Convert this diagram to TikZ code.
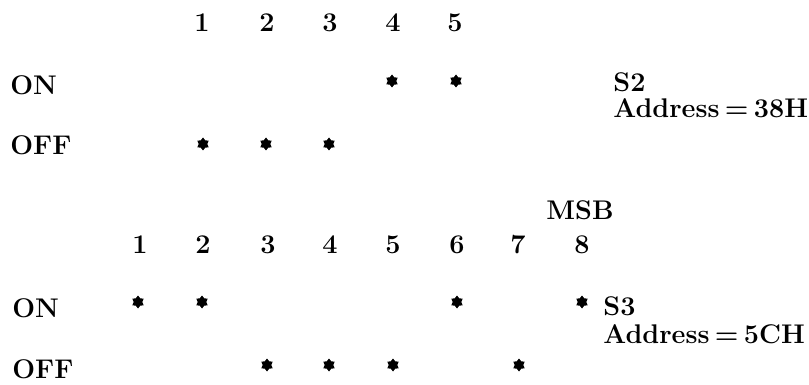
\documentclass[tikz,border=0pt]{standalone}
\usetikzlibrary{shapes.geometric}
\begin{document}
\begin{tikzpicture}[x=0.5pt,y=-0.5pt,
  lbl/.style={anchor=base west,inner sep=0pt,font=\fontsize{13.5}{15}\selectfont\bfseries},
  num/.style={anchor=base,inner sep=0pt,font=\fontsize{13.5}{15}\selectfont\bfseries},
  mark6/.style={star,star points=6,star point ratio=1.5,fill=black,draw=none,minimum size=6.5pt,inner sep=0pt}]
\useasboundingbox (0,0) rectangle (809,385);
% ---- S2 ----
\foreach \i/\x in {1/202,2/267,3/330,4/393,5/455}
  \node[num] (ta\i) at (\x,32) {\i};
\node[lbl] (tON) at (10,95) {ON};
\node[lbl] (tOFF) at (10,155) {OFF};
\node[mark6] (ts4) at (392,81) {};
\node[mark6] (ts5) at (456,81) {};
\node[mark6] (ts1) at (203,144) {};
\node[mark6] (ts2) at (266,144) {};
\node[mark6] (ts3) at (329,144) {};
\node[lbl] (s2) at (613,92) {S2};
\node[lbl] (s2a) at (613,118) {Address\hspace{0.2em}=\hspace{0.2em}38H};
% ---- S3 ----
\node[num] (msb) at (580,220) {MSB};
\foreach \i/\x in {1/140,2/203,3/268,4/330,5/393,6/457,7/518,8/582}
  \node[num] (ba\i) at (\x,253) {\i};
\node[lbl] (bON) at (12,317) {ON};
\node[lbl] (bOFF) at (12,378) {OFF};
\node[mark6] (bs1) at (138,302) {};
\node[mark6] (bs2) at (202,302) {};
\node[mark6] (bs6) at (457,302) {};
\node[mark6] (bs8) at (582,302) {};
\node[mark6] (bs3) at (267,365) {};
\node[mark6] (bs4) at (329,365) {};
\node[mark6] (bs5) at (393,365) {};
\node[mark6] (bs7) at (519,365) {};
\node[lbl] (s3) at (603,315) {S3};
\node[lbl] (s3a) at (603,343) {Address\hspace{0.2em}=\hspace{0.2em}5CH};
\end{tikzpicture}
\end{document}
